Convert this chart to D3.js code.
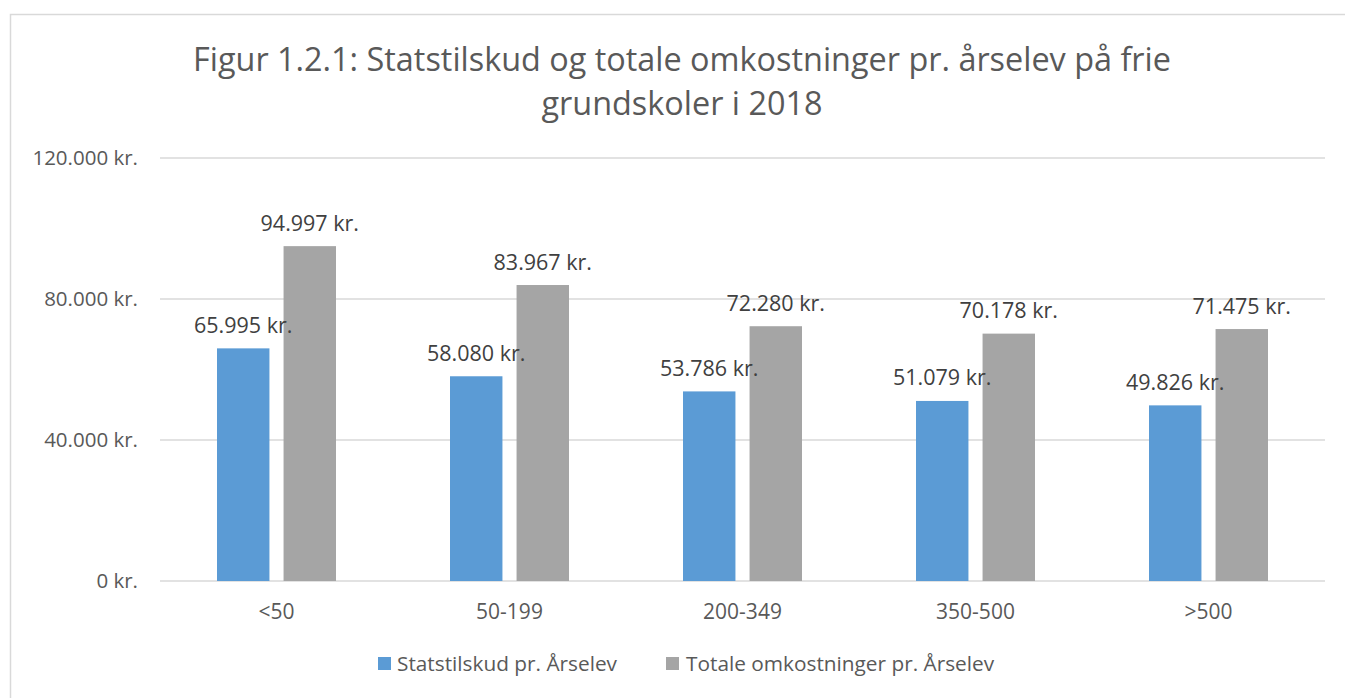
<!DOCTYPE html>
<html><head><meta charset="utf-8">
<script src="https://cdn.jsdelivr.net/npm/d3@7"></script>
<style>
body{margin:0;background:#fff;}
text{font-family:"Open Sans",sans-serif;fill:#595959;}
</style></head><body>
<svg id="c" width="1345" height="698"></svg>
<script>
const categories = ["<50","50-199","200-349","350-500",">500"];
const seriesNames = ["Statstilskud pr. Årselev","Totale omkostninger pr. Årselev"];
const statstilskud = [65995,58080,53786,51079,49826];
const totale = [94997,83967,72280,70178,71475];
const yTicks = [0,40000,80000,120000];
const colors = ["#5B9BD5","#A5A5A5"];
const titleLines = ["Figur 1.2.1: Statstilskud og totale omkostninger pr. årselev på frie","grundskoler i 2018"];

const fmt = v => d3.format(",")(v).replace(/,/g,".") + " kr.";
const svg = d3.select("#c");
svg.append("rect").attr("x",10.5).attr("y",14.5).attr("width",1345).attr("height",700)
  .attr("fill","#fff").attr("stroke","#D9D9D9").attr("stroke-width",1.5);

const L=160,R=1325,T=158,B=581;
const x = d3.scaleBand().domain(categories).range([L,R]).paddingInner(0).paddingOuter(0);
const y = d3.scaleLinear().domain([0,120000]).range([B,T]);
const sub = d3.scaleBand().domain([0,1]).range([57,176]).paddingInner(14/66);

svg.append("g").selectAll("line").data(yTicks).join("line")
  .attr("x1",L).attr("x2",R).attr("y1",d=>y(d)).attr("y2",d=>y(d))
  .attr("stroke","#D9D9D9").attr("stroke-width",1.3);

svg.append("g").selectAll("text").data(yTicks).join("text")
  .attr("x",138).attr("y",d=>y(d)).attr("dy","0.35em").attr("text-anchor","end")
  .style("font-size","20.5px").text(d=> d===0 ? "0 kr." : fmt(d));

svg.append("g").selectAll("text").data(categories).join("text")
  .attr("x",d=>x(d)+x.bandwidth()/2).attr("y",612).attr("dy","0.35em").attr("text-anchor","middle")
  .style("font-size","21px").text(d=>d);

const series=[statstilskud,totale];
series.forEach((vals,si)=>{
  const g=svg.append("g");
  g.selectAll("rect").data(vals).join("rect")
    .attr("x",(d,i)=>x(categories[i])+sub(si)).attr("width",sub.bandwidth())
    .attr("y",d=>y(d)).attr("height",d=>B-y(d)).attr("fill",colors[si]);
});
series.forEach((vals,si)=>{
  svg.append("g").selectAll("text").data(vals).join("text")
    .attr("x",(d,i)=>x(categories[i])+sub(si)+sub.bandwidth()/2)
    .attr("y",d=>y(d)-23).attr("dy","0.35em").attr("text-anchor","middle")
    .style("font-size","21.5px").style("fill","#404040").text(d=>fmt(d));
});

svg.append("g").selectAll("text").data(titleLines).join("text")
  .attr("x",682).attr("y",(d,i)=>60+i*44).attr("dy","0.35em").attr("text-anchor","middle")
  .style("font-size","32.4px").text(d=>d);

const lg=[{x:378,t:397},{x:666,t:686}];
seriesNames.forEach((n,i)=>{
  svg.append("rect").attr("x",lg[i].x).attr("y",657).attr("width",13).attr("height",13).attr("fill",colors[i]);
  svg.append("text").attr("x",lg[i].t).attr("y",664).attr("dy","0.35em").style("font-size","20.8px").text(n);
});
</script></body></html>
